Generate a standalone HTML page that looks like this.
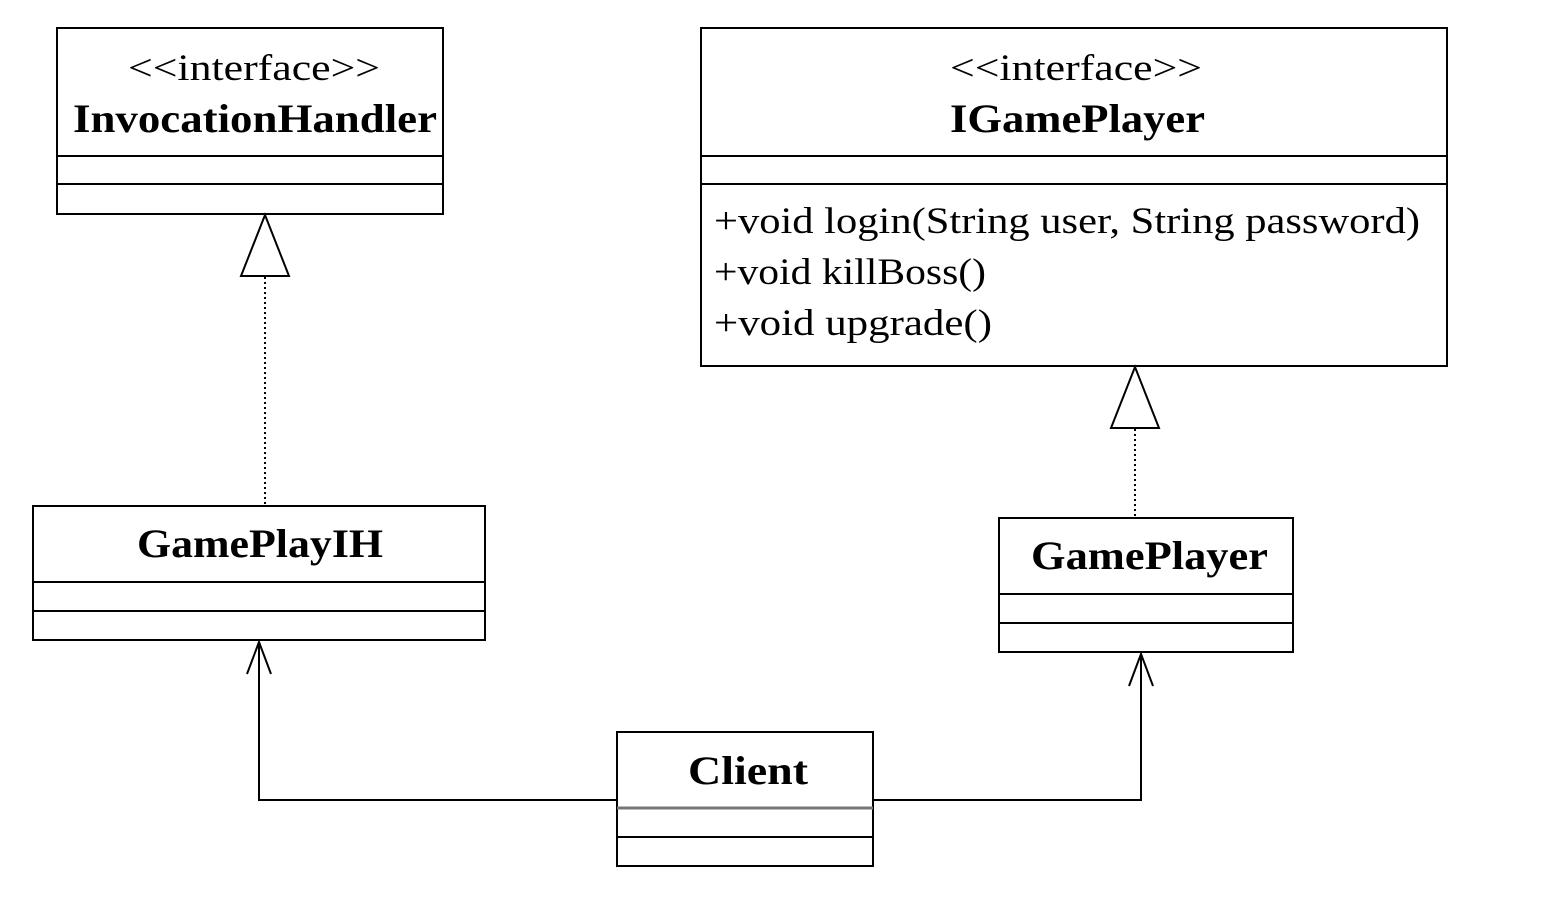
<!DOCTYPE html>
<html><head><style>
html,body{margin:0;padding:0;background:#fff;}
svg{display:block;}
text{font-family:"Liberation Serif",serif;fill:#000;}
.b{font-weight:bold;font-size:40px;}
.s{font-size:37px;}
</style></head><body>
<svg width="1542" height="914" viewBox="0 0 1542 914">
<g fill="none" stroke="#000" stroke-width="2">
<rect x="57" y="28" width="386" height="186"/>
<line x1="57" y1="156" x2="443" y2="156"/>
<line x1="57" y1="184" x2="443" y2="184"/>
<rect x="701" y="28" width="746" height="338"/>
<line x1="701" y1="156" x2="1447" y2="156"/>
<line x1="701" y1="184" x2="1447" y2="184"/>
<rect x="33" y="506" width="452" height="134"/>
<line x1="33" y1="582" x2="485" y2="582"/>
<line x1="33" y1="611" x2="485" y2="611"/>
<rect x="999" y="518" width="294" height="134"/>
<line x1="999" y1="594" x2="1293" y2="594"/>
<line x1="999" y1="623" x2="1293" y2="623"/>
<rect x="617" y="732" width="256" height="134"/>
<line x1="617" y1="808" x2="873" y2="808" stroke="#777" stroke-width="3"/>
<line x1="617" y1="837" x2="873" y2="837"/>
<polygon points="265,215 241,276 289,276"/>
<polygon points="1135,367 1111,428 1159,428"/>
<line x1="265" y1="277" x2="265" y2="505" stroke-dasharray="2,3"/>
<line x1="1135" y1="429" x2="1135" y2="517" stroke-dasharray="2,3"/>
<polyline points="617,800 259,800 259,642"/>
<polyline points="247,674 259,642 271,674"/>
<polyline points="873,800 1141,800 1141,654"/>
<polyline points="1129,686 1141,654 1153,686"/>
</g>
<text x="128" y="80" class="s" textLength="252" lengthAdjust="spacingAndGlyphs">&lt;&lt;interface&gt;&gt;</text>
<text x="73" y="132" class="b" textLength="364" lengthAdjust="spacingAndGlyphs">InvocationHandler</text>
<text x="950" y="80" class="s" textLength="252" lengthAdjust="spacingAndGlyphs">&lt;&lt;interface&gt;&gt;</text>
<text x="950" y="132" class="b" textLength="255" lengthAdjust="spacingAndGlyphs">IGamePlayer</text>
<text x="714" y="233" class="s" textLength="706" lengthAdjust="spacingAndGlyphs">+void login(String user, String password)</text>
<text x="714" y="284" class="s" textLength="272" lengthAdjust="spacingAndGlyphs">+void killBoss()</text>
<text x="714" y="335" class="s" textLength="278" lengthAdjust="spacingAndGlyphs">+void upgrade()</text>
<text x="137" y="557" class="b" textLength="246" lengthAdjust="spacingAndGlyphs">GamePlayIH</text>
<text x="1031" y="569" class="b" textLength="237" lengthAdjust="spacingAndGlyphs">GamePlayer</text>
<text x="688" y="784" class="b" textLength="120" lengthAdjust="spacingAndGlyphs">Client</text>
</svg>
</body></html>
